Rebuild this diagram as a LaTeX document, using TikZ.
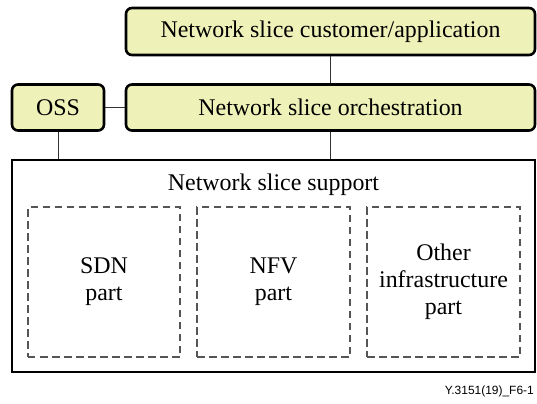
\documentclass[tikz,border=0pt]{standalone}
\usepackage{fontspec}
\setmainfont{Liberation Serif}
\newfontfamily\labelsans{Liberation Sans}
\definecolor{boxfill}{RGB}{239,242,184}
\definecolor{dashgray}{RGB}{85,85,85}
\begin{document}
\begin{tikzpicture}[x=1bp,y=-1bp,
  upper/.style={draw=black,line width=2.6bp,fill=boxfill,rounded corners=6bp,inner sep=0pt},
  support/.style={draw=black,line width=2.8bp,fill=white,inner sep=0pt},
  part/.style={draw=dashgray,line width=1.1bp,dash pattern=on 7.5bp off 4.5bp,inner sep=0pt},
  link/.style={draw=black!80,line width=1bp},
  txt/.style={font=\fontsize{24}{27}\selectfont,align=center,inner sep=0pt}]
\useasboundingbox (0,0) rectangle (537,403);
% upper layer boxes
\node[upper,minimum width=409bp,minimum height=47bp] (cust) at (330.5,31.5) {};
\node[txt] at (cust.center) {Network slice customer/application};
\node[upper,minimum width=409bp,minimum height=46bp] (orch) at (330.5,107.5) {};
\node[txt] at (orch.center) {Network slice orchestration};
\node[upper,minimum width=92bp,minimum height=46bp] (oss) at (58,107.5) {};
\node[txt] at (oss.center) {OSS};
% support box with its three parts
\node[support,minimum width=523bp,minimum height=212bp] (sup) at (273.5,266) {};
\node[txt] (suptitle) at (273.5,185) {Network slice support};
\node[part,minimum width=152bp,minimum height=150bp] (sdn) at (104,282) {};
\node[txt] at (sdn.center) {SDN\\part};
\node[part,minimum width=153bp,minimum height=150bp] (nfv) at (273.5,282) {};
\node[txt] at (nfv.center) {NFV\\part};
\node[part,minimum width=153bp,minimum height=150bp] (other) at (443.5,282) {};
\node[txt] at (other.center) {Other\\infrastructure\\part};
% connectors
\draw[link] (cust.south) -- (orch.north);
\draw[link] (oss.east) -- (orch.west);
\draw[link] (orch.south) -- (orch.south |- sup.north);
\draw[link] (oss.south) -- (oss.south |- sup.north);
% figure reference
\node[font=\labelsans\fontsize{12}{14}\selectfont,anchor=east,inner sep=0pt] (ref) at (534,391) {Y.3151(19)\_F6-1};
\end{tikzpicture}
\end{document}
